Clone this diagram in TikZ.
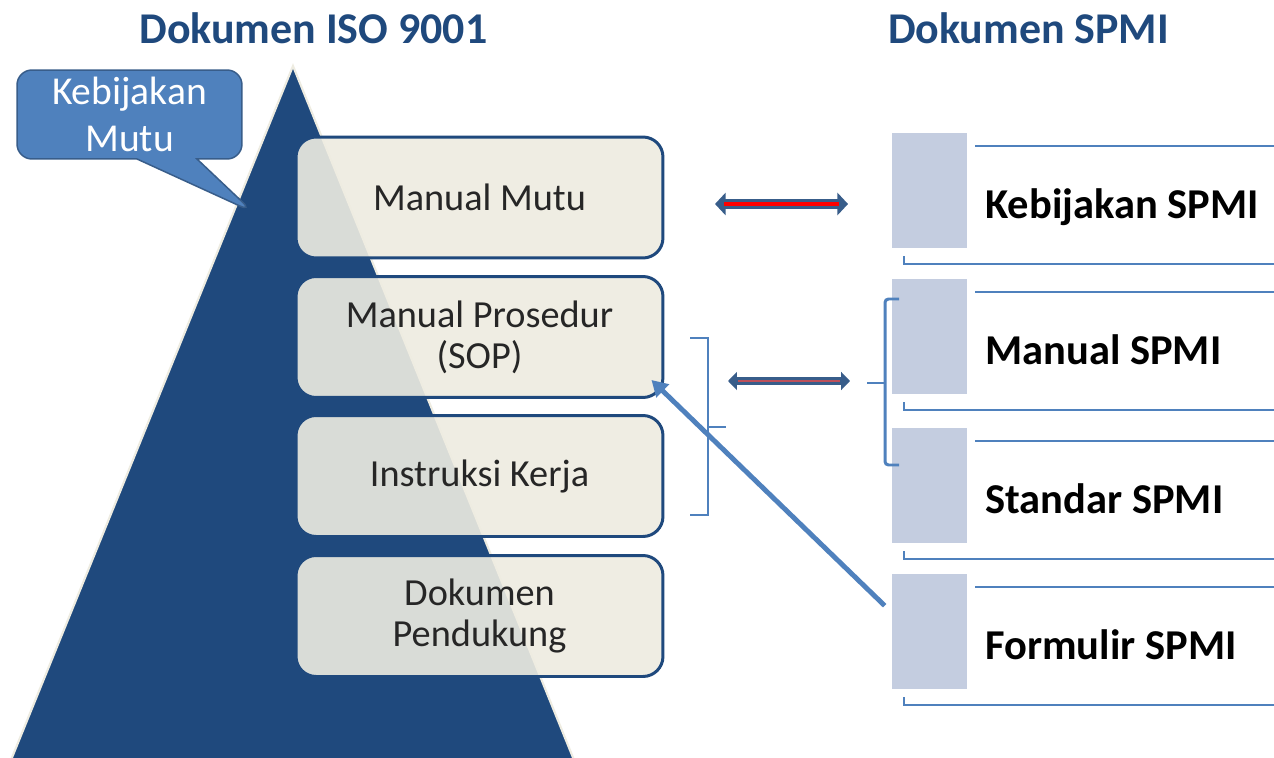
\documentclass[tikz,border=0pt]{standalone}
\usepackage{fontspec}
\setmainfont{Carlito}
\usetikzlibrary{arrows.meta,shapes.callouts}
\definecolor{navy}{HTML}{1F497D}
\definecolor{cream}{HTML}{EEECE1}
\definecolor{accent}{HTML}{4F81BD}
\definecolor{accentdark}{HTML}{385D8A}
\definecolor{tabfill}{HTML}{C4CDE0}
\definecolor{softred}{RGB}{190,80,90}
\newcommand\boxfont{\fontsize{21.8}{23.2}\selectfont}
\newcommand\callfont{\fontsize{22.5}{26.6}\selectfont}
\newcommand\lblfont{\fontsize{24.2}{28}\selectfont\bfseries}
\newcommand\hdrfont{\fontsize{25}{29}\selectfont\bfseries}
\tikzset{
  pyramid/.style={fill=navy,draw=cream,line width=1.2pt},
  docbox/.style={draw=navy,line width=1.7pt,fill=cream,fill opacity=0.9,text opacity=1,
    rounded corners=0.4cm,minimum width=7.34cm,minimum height=2.42cm,align=center,
    font=\boxfont,text=black!85},
  bubble/.style={rectangle callout,fill=accent,draw=accentdark,line width=0.85pt,
    rounded corners=0.3cm,minimum width=4.5cm,minimum height=1.78cm,
    callout pointer width=1.2cm,text=white,font=\callfont,align=center},
  tab/.style={fill=tabfill,minimum width=1.5cm,minimum height=2.3cm,inner sep=0pt},
  rule/.style={draw=accent,line width=0.85pt},
  tablbl/.style={anchor=base west,font=\lblfont,inner sep=0pt},
  hdr/.style={anchor=base,font=\hdrfont,text=navy,inner sep=0pt},
  brace/.style={draw=accent,line width=0.7pt},
  bigbrace/.style={draw=accent,line width=1.7pt,rounded corners=2pt},
  pointer/.style={draw=accent,line width=2.8pt,-{Triangle[length=9pt,width=10pt]}},
  dblarrow/.style={draw=accentdark,line width=5.7pt,
    {Triangle[length=6pt,width=12.5pt]}-{Triangle[length=6pt,width=12.5pt]}},
  thinarrow/.style={draw=accentdark,line width=4.5pt,
    {Triangle[length=5pt,width=10pt]}-{Triangle[length=5pt,width=10pt]}}
}
\begin{document}
\begin{tikzpicture}[x=0.02cm,y=-0.02cm]
\useasboundingbox (0,0) rectangle (1274,757);
\fill[white] (0,0) rectangle (1274,757);

\draw[pyramid] (293,66) -- (576,765) -- (9,765) -- cycle;

\node[hdr] (iso) at (313.5,44) {Dokumen ISO 9001};
\node[hdr] (spmi) at (1028.5,44) {Dokumen SPMI};

\node[docbox] (mutu) at (479.5,197.5) {Manual Mutu};
\node[docbox] (sop) at (479.5,337) {Manual Prosedur\\(SOP)};
\node[docbox] (ik) at (479.5,476) {Instruksi Kerja};
\node[docbox] (pendukung) at (479.5,616) {Dokumen\\Pendukung};

\node[bubble,callout absolute pointer={(253,212)}] (kmutu) at (129.5,114.5) {Kebijakan\\Mutu};

\foreach \t/\lbl/\nm in {133/Kebijakan SPMI/kb,279/Manual SPMI/ms,428/Standar SPMI/st,574/Formulir SPMI/fm}{
  \node[tab] (tab-\nm) at (929.5,\t+57.5) {};
  \draw[rule] (975,\t+13) -- (1274,\t+13);
  \draw[rule] (904,\t+123) |- (1274,\t+131);
  \node[tablbl] (lbl-\nm) at (985,\t+85) {\lbl};
}

\draw[brace] (690,338) -- (708,338) -- (708,515) -- (690,515) (708,427) -- (726,427);
\draw[bigbrace] (899,299) -- (885,299) -- (885,465) -- (899,465);
\draw[bigbrace] (885,383) -- (867,383);

\coordinate (a1l) at (715,204);
\coordinate (a1r) at (848,204);
\draw[dblarrow] (a1l) -- (a1r);
\draw[red,line width=2.8pt,shorten <=0.18cm,shorten >=0.18cm] (a1l) -- (a1r);

\coordinate (a2l) at (728,381);
\coordinate (a2r) at (850,381);
\draw[thinarrow] (a2l) -- (a2r);
\draw[softred,line width=0.6pt,shorten <=0.2cm,shorten >=0.2cm] (a2l) -- (a2r);

\draw[pointer] ([shift={(-7,32)}]tab-fm.north west) -- ([shift={(-13,-19)}]sop.south east);
\end{tikzpicture}
\end{document}
